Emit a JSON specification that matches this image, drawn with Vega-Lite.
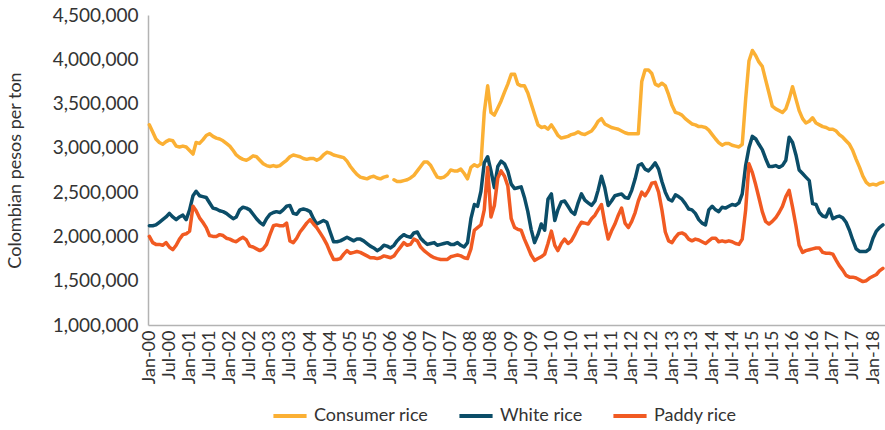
{
"$schema":"https://vega.github.io/schema/vega-lite/v6.json",
"width":737,"height":310,
"autosize":{"type":"none"},
"padding":{"left":148,"top":15,"right":0,"bottom":105},
"background":"white",
"config":{"view":{"stroke":null},"font":"Lato"},
"data":{"values":[
{"date":"2000-01","Consumer rice":3260000,"White rice":2120000,"Paddy rice":2000000},
{"date":"2000-02","Consumer rice":3180000,"White rice":2120000,"Paddy rice":1930000},
{"date":"2000-03","Consumer rice":3100000,"White rice":2130000,"Paddy rice":1910000},
{"date":"2000-04","Consumer rice":3060000,"White rice":2160000,"Paddy rice":1910000},
{"date":"2000-05","Consumer rice":3040000,"White rice":2190000,"Paddy rice":1900000},
{"date":"2000-06","Consumer rice":3070000,"White rice":2220000,"Paddy rice":1930000},
{"date":"2000-07","Consumer rice":3090000,"White rice":2260000,"Paddy rice":1880000},
{"date":"2000-08","Consumer rice":3080000,"White rice":2220000,"Paddy rice":1850000},
{"date":"2000-09","Consumer rice":3020000,"White rice":2190000,"Paddy rice":1900000},
{"date":"2000-10","Consumer rice":3010000,"White rice":2220000,"Paddy rice":1970000},
{"date":"2000-11","Consumer rice":3020000,"White rice":2240000,"Paddy rice":2020000},
{"date":"2000-12","Consumer rice":3010000,"White rice":2190000,"Paddy rice":2030000},
{"date":"2001-01","Consumer rice":2970000,"White rice":2300000,"Paddy rice":2060000},
{"date":"2001-02","Consumer rice":2930000,"White rice":2460000,"Paddy rice":2340000},
{"date":"2001-03","Consumer rice":3060000,"White rice":2510000,"Paddy rice":2290000},
{"date":"2001-04","Consumer rice":3050000,"White rice":2460000,"Paddy rice":2210000},
{"date":"2001-05","Consumer rice":3090000,"White rice":2450000,"Paddy rice":2160000},
{"date":"2001-06","Consumer rice":3140000,"White rice":2440000,"Paddy rice":2100000},
{"date":"2001-07","Consumer rice":3160000,"White rice":2380000,"Paddy rice":2010000},
{"date":"2001-08","Consumer rice":3130000,"White rice":2320000,"Paddy rice":2000000},
{"date":"2001-09","Consumer rice":3110000,"White rice":2310000,"Paddy rice":2000000},
{"date":"2001-10","Consumer rice":3100000,"White rice":2290000,"Paddy rice":2020000},
{"date":"2001-11","Consumer rice":3080000,"White rice":2280000,"Paddy rice":2010000},
{"date":"2001-12","Consumer rice":3050000,"White rice":2260000,"Paddy rice":1980000},
{"date":"2002-01","Consumer rice":3020000,"White rice":2230000,"Paddy rice":1970000},
{"date":"2002-02","Consumer rice":2970000,"White rice":2200000,"Paddy rice":1950000},
{"date":"2002-03","Consumer rice":2920000,"White rice":2220000,"Paddy rice":1940000},
{"date":"2002-04","Consumer rice":2890000,"White rice":2300000,"Paddy rice":1970000},
{"date":"2002-05","Consumer rice":2870000,"White rice":2330000,"Paddy rice":1990000},
{"date":"2002-06","Consumer rice":2860000,"White rice":2320000,"Paddy rice":1960000},
{"date":"2002-07","Consumer rice":2880000,"White rice":2300000,"Paddy rice":1890000},
{"date":"2002-08","Consumer rice":2910000,"White rice":2250000,"Paddy rice":1880000},
{"date":"2002-09","Consumer rice":2900000,"White rice":2200000,"Paddy rice":1860000},
{"date":"2002-10","Consumer rice":2860000,"White rice":2160000,"Paddy rice":1840000},
{"date":"2002-11","Consumer rice":2820000,"White rice":2130000,"Paddy rice":1860000},
{"date":"2002-12","Consumer rice":2800000,"White rice":2200000,"Paddy rice":1910000},
{"date":"2003-01","Consumer rice":2790000,"White rice":2250000,"Paddy rice":2020000},
{"date":"2003-02","Consumer rice":2800000,"White rice":2270000,"Paddy rice":2120000},
{"date":"2003-03","Consumer rice":2790000,"White rice":2280000,"Paddy rice":2130000},
{"date":"2003-04","Consumer rice":2800000,"White rice":2270000,"Paddy rice":2120000},
{"date":"2003-05","Consumer rice":2830000,"White rice":2300000,"Paddy rice":2120000},
{"date":"2003-06","Consumer rice":2860000,"White rice":2340000,"Paddy rice":2150000},
{"date":"2003-07","Consumer rice":2900000,"White rice":2350000,"Paddy rice":1950000},
{"date":"2003-08","Consumer rice":2920000,"White rice":2260000,"Paddy rice":1930000},
{"date":"2003-09","Consumer rice":2910000,"White rice":2250000,"Paddy rice":1980000},
{"date":"2003-10","Consumer rice":2900000,"White rice":2300000,"Paddy rice":2050000},
{"date":"2003-11","Consumer rice":2880000,"White rice":2310000,"Paddy rice":2100000},
{"date":"2003-12","Consumer rice":2870000,"White rice":2300000,"Paddy rice":2150000},
{"date":"2004-01","Consumer rice":2880000,"White rice":2280000,"Paddy rice":2190000},
{"date":"2004-02","Consumer rice":2880000,"White rice":2200000,"Paddy rice":2140000},
{"date":"2004-03","Consumer rice":2860000,"White rice":2140000,"Paddy rice":2100000},
{"date":"2004-04","Consumer rice":2880000,"White rice":2160000,"Paddy rice":2040000},
{"date":"2004-05","Consumer rice":2920000,"White rice":2180000,"Paddy rice":1980000},
{"date":"2004-06","Consumer rice":2950000,"White rice":2160000,"Paddy rice":1910000},
{"date":"2004-07","Consumer rice":2940000,"White rice":2050000,"Paddy rice":1820000},
{"date":"2004-08","Consumer rice":2920000,"White rice":1940000,"Paddy rice":1740000},
{"date":"2004-09","Consumer rice":2910000,"White rice":1940000,"Paddy rice":1740000},
{"date":"2004-10","Consumer rice":2900000,"White rice":1950000,"Paddy rice":1750000},
{"date":"2004-11","Consumer rice":2890000,"White rice":1970000,"Paddy rice":1800000},
{"date":"2004-12","Consumer rice":2850000,"White rice":1990000,"Paddy rice":1840000},
{"date":"2005-01","Consumer rice":2790000,"White rice":1970000,"Paddy rice":1810000},
{"date":"2005-02","Consumer rice":2740000,"White rice":1950000,"Paddy rice":1820000},
{"date":"2005-03","Consumer rice":2700000,"White rice":1970000,"Paddy rice":1830000},
{"date":"2005-04","Consumer rice":2670000,"White rice":1970000,"Paddy rice":1820000},
{"date":"2005-05","Consumer rice":2660000,"White rice":1950000,"Paddy rice":1800000},
{"date":"2005-06","Consumer rice":2650000,"White rice":1920000,"Paddy rice":1780000},
{"date":"2005-07","Consumer rice":2670000,"White rice":1890000,"Paddy rice":1760000},
{"date":"2005-08","Consumer rice":2680000,"White rice":1870000,"Paddy rice":1760000},
{"date":"2005-09","Consumer rice":2660000,"White rice":1840000,"Paddy rice":1750000},
{"date":"2005-10","Consumer rice":2650000,"White rice":1860000,"Paddy rice":1760000},
{"date":"2005-11","Consumer rice":2670000,"White rice":1900000,"Paddy rice":1780000},
{"date":"2005-12","Consumer rice":2680000,"White rice":1890000,"Paddy rice":1770000},
{"date":"2006-01","Consumer rice":null,"White rice":1870000,"Paddy rice":1760000},
{"date":"2006-02","Consumer rice":2640000,"White rice":1900000,"Paddy rice":1780000},
{"date":"2006-03","Consumer rice":2620000,"White rice":1950000,"Paddy rice":1830000},
{"date":"2006-04","Consumer rice":2620000,"White rice":1990000,"Paddy rice":1880000},
{"date":"2006-05","Consumer rice":2630000,"White rice":2020000,"Paddy rice":1930000},
{"date":"2006-06","Consumer rice":2640000,"White rice":2000000,"Paddy rice":1900000},
{"date":"2006-07","Consumer rice":2660000,"White rice":1990000,"Paddy rice":1910000},
{"date":"2006-08","Consumer rice":2690000,"White rice":2040000,"Paddy rice":1970000},
{"date":"2006-09","Consumer rice":2740000,"White rice":2050000,"Paddy rice":1950000},
{"date":"2006-10","Consumer rice":2790000,"White rice":1980000,"Paddy rice":1880000},
{"date":"2006-11","Consumer rice":2840000,"White rice":1940000,"Paddy rice":1840000},
{"date":"2006-12","Consumer rice":2840000,"White rice":1910000,"Paddy rice":1810000},
{"date":"2007-01","Consumer rice":2800000,"White rice":1920000,"Paddy rice":1780000},
{"date":"2007-02","Consumer rice":2730000,"White rice":1930000,"Paddy rice":1760000},
{"date":"2007-03","Consumer rice":2670000,"White rice":1900000,"Paddy rice":1750000},
{"date":"2007-04","Consumer rice":2660000,"White rice":1910000,"Paddy rice":1740000},
{"date":"2007-05","Consumer rice":2670000,"White rice":1920000,"Paddy rice":1740000},
{"date":"2007-06","Consumer rice":2700000,"White rice":1930000,"Paddy rice":1740000},
{"date":"2007-07","Consumer rice":2750000,"White rice":1910000,"Paddy rice":1770000},
{"date":"2007-08","Consumer rice":2740000,"White rice":1910000,"Paddy rice":1780000},
{"date":"2007-09","Consumer rice":2740000,"White rice":1930000,"Paddy rice":1790000},
{"date":"2007-10","Consumer rice":2760000,"White rice":1900000,"Paddy rice":1780000},
{"date":"2007-11","Consumer rice":2710000,"White rice":1880000,"Paddy rice":1760000},
{"date":"2007-12","Consumer rice":2650000,"White rice":1930000,"Paddy rice":1750000},
{"date":"2008-01","Consumer rice":2780000,"White rice":2200000,"Paddy rice":1860000},
{"date":"2008-02","Consumer rice":2810000,"White rice":2360000,"Paddy rice":2070000},
{"date":"2008-03","Consumer rice":2790000,"White rice":2340000,"Paddy rice":2100000},
{"date":"2008-04","Consumer rice":2820000,"White rice":2510000,"Paddy rice":2130000},
{"date":"2008-05","Consumer rice":3400000,"White rice":2830000,"Paddy rice":2300000},
{"date":"2008-06","Consumer rice":3700000,"White rice":2900000,"Paddy rice":2780000},
{"date":"2008-07","Consumer rice":3400000,"White rice":2740000,"Paddy rice":2220000},
{"date":"2008-08","Consumer rice":3370000,"White rice":2550000,"Paddy rice":2350000},
{"date":"2008-09","Consumer rice":3450000,"White rice":2790000,"Paddy rice":2660000},
{"date":"2008-10","Consumer rice":3530000,"White rice":2850000,"Paddy rice":2740000},
{"date":"2008-11","Consumer rice":3630000,"White rice":2820000,"Paddy rice":2680000},
{"date":"2008-12","Consumer rice":3720000,"White rice":2740000,"Paddy rice":2570000},
{"date":"2009-01","Consumer rice":3830000,"White rice":2590000,"Paddy rice":2200000},
{"date":"2009-02","Consumer rice":3830000,"White rice":2540000,"Paddy rice":2100000},
{"date":"2009-03","Consumer rice":3720000,"White rice":2550000,"Paddy rice":2080000},
{"date":"2009-04","Consumer rice":3700000,"White rice":2560000,"Paddy rice":2070000},
{"date":"2009-05","Consumer rice":3700000,"White rice":2440000,"Paddy rice":1970000},
{"date":"2009-06","Consumer rice":3620000,"White rice":2280000,"Paddy rice":1880000},
{"date":"2009-07","Consumer rice":3500000,"White rice":2080000,"Paddy rice":1790000},
{"date":"2009-08","Consumer rice":3380000,"White rice":1930000,"Paddy rice":1730000},
{"date":"2009-09","Consumer rice":3260000,"White rice":2020000,"Paddy rice":1750000},
{"date":"2009-10","Consumer rice":3230000,"White rice":2140000,"Paddy rice":1770000},
{"date":"2009-11","Consumer rice":3240000,"White rice":2070000,"Paddy rice":1800000},
{"date":"2009-12","Consumer rice":3210000,"White rice":2420000,"Paddy rice":1920000},
{"date":"2010-01","Consumer rice":3260000,"White rice":2480000,"Paddy rice":2060000},
{"date":"2010-02","Consumer rice":3200000,"White rice":2180000,"Paddy rice":1900000},
{"date":"2010-03","Consumer rice":3140000,"White rice":2300000,"Paddy rice":1840000},
{"date":"2010-04","Consumer rice":3110000,"White rice":2390000,"Paddy rice":1920000},
{"date":"2010-05","Consumer rice":3120000,"White rice":2400000,"Paddy rice":1970000},
{"date":"2010-06","Consumer rice":3130000,"White rice":2340000,"Paddy rice":1920000},
{"date":"2010-07","Consumer rice":3150000,"White rice":2280000,"Paddy rice":1950000},
{"date":"2010-08","Consumer rice":3160000,"White rice":2250000,"Paddy rice":2020000},
{"date":"2010-09","Consumer rice":3180000,"White rice":2380000,"Paddy rice":2100000},
{"date":"2010-10","Consumer rice":3160000,"White rice":2480000,"Paddy rice":2160000},
{"date":"2010-11","Consumer rice":3150000,"White rice":2410000,"Paddy rice":2150000},
{"date":"2010-12","Consumer rice":3170000,"White rice":2380000,"Paddy rice":2140000},
{"date":"2011-01","Consumer rice":3190000,"White rice":2350000,"Paddy rice":2200000},
{"date":"2011-02","Consumer rice":3240000,"White rice":2400000,"Paddy rice":2240000},
{"date":"2011-03","Consumer rice":3300000,"White rice":2520000,"Paddy rice":2300000},
{"date":"2011-04","Consumer rice":3330000,"White rice":2680000,"Paddy rice":2360000},
{"date":"2011-05","Consumer rice":3270000,"White rice":2550000,"Paddy rice":2150000},
{"date":"2011-06","Consumer rice":3250000,"White rice":2350000,"Paddy rice":1970000},
{"date":"2011-07","Consumer rice":3230000,"White rice":2400000,"Paddy rice":2060000},
{"date":"2011-08","Consumer rice":3220000,"White rice":2460000,"Paddy rice":2140000},
{"date":"2011-09","Consumer rice":3210000,"White rice":2470000,"Paddy rice":2240000},
{"date":"2011-10","Consumer rice":3190000,"White rice":2480000,"Paddy rice":2320000},
{"date":"2011-11","Consumer rice":3170000,"White rice":2440000,"Paddy rice":2150000},
{"date":"2011-12","Consumer rice":3160000,"White rice":2430000,"Paddy rice":2100000},
{"date":"2012-01","Consumer rice":3160000,"White rice":2520000,"Paddy rice":2170000},
{"date":"2012-02","Consumer rice":3160000,"White rice":2650000,"Paddy rice":2270000},
{"date":"2012-03","Consumer rice":3160000,"White rice":2800000,"Paddy rice":2400000},
{"date":"2012-04","Consumer rice":3750000,"White rice":2820000,"Paddy rice":2500000},
{"date":"2012-05","Consumer rice":3880000,"White rice":2760000,"Paddy rice":2460000},
{"date":"2012-06","Consumer rice":3880000,"White rice":2740000,"Paddy rice":2520000},
{"date":"2012-07","Consumer rice":3840000,"White rice":2780000,"Paddy rice":2600000},
{"date":"2012-08","Consumer rice":3720000,"White rice":2830000,"Paddy rice":2610000},
{"date":"2012-09","Consumer rice":3700000,"White rice":2760000,"Paddy rice":2500000},
{"date":"2012-10","Consumer rice":3730000,"White rice":2620000,"Paddy rice":2300000},
{"date":"2012-11","Consumer rice":3700000,"White rice":2500000,"Paddy rice":2050000},
{"date":"2012-12","Consumer rice":3600000,"White rice":2420000,"Paddy rice":1950000},
{"date":"2013-01","Consumer rice":3480000,"White rice":2400000,"Paddy rice":1930000},
{"date":"2013-02","Consumer rice":3400000,"White rice":2470000,"Paddy rice":1990000},
{"date":"2013-03","Consumer rice":3390000,"White rice":2450000,"Paddy rice":2030000},
{"date":"2013-04","Consumer rice":3370000,"White rice":2420000,"Paddy rice":2040000},
{"date":"2013-05","Consumer rice":3330000,"White rice":2370000,"Paddy rice":2020000},
{"date":"2013-06","Consumer rice":3300000,"White rice":2310000,"Paddy rice":1970000},
{"date":"2013-07","Consumer rice":3270000,"White rice":2300000,"Paddy rice":1950000},
{"date":"2013-08","Consumer rice":3260000,"White rice":2260000,"Paddy rice":1970000},
{"date":"2013-09","Consumer rice":3240000,"White rice":2190000,"Paddy rice":1960000},
{"date":"2013-10","Consumer rice":3240000,"White rice":2150000,"Paddy rice":1940000},
{"date":"2013-11","Consumer rice":3230000,"White rice":2130000,"Paddy rice":1920000},
{"date":"2013-12","Consumer rice":3200000,"White rice":2300000,"Paddy rice":1950000},
{"date":"2014-01","Consumer rice":3150000,"White rice":2340000,"Paddy rice":1980000},
{"date":"2014-02","Consumer rice":3100000,"White rice":2300000,"Paddy rice":1980000},
{"date":"2014-03","Consumer rice":3060000,"White rice":2280000,"Paddy rice":1940000},
{"date":"2014-04","Consumer rice":3030000,"White rice":2330000,"Paddy rice":1950000},
{"date":"2014-05","Consumer rice":3050000,"White rice":2320000,"Paddy rice":1940000},
{"date":"2014-06","Consumer rice":3050000,"White rice":2340000,"Paddy rice":1950000},
{"date":"2014-07","Consumer rice":3030000,"White rice":2360000,"Paddy rice":1940000},
{"date":"2014-08","Consumer rice":3020000,"White rice":2350000,"Paddy rice":1920000},
{"date":"2014-09","Consumer rice":3010000,"White rice":2380000,"Paddy rice":1910000},
{"date":"2014-10","Consumer rice":3040000,"White rice":2480000,"Paddy rice":1970000},
{"date":"2014-11","Consumer rice":3550000,"White rice":2800000,"Paddy rice":2300000},
{"date":"2014-12","Consumer rice":3980000,"White rice":3000000,"Paddy rice":2820000},
{"date":"2015-01","Consumer rice":4100000,"White rice":3130000,"Paddy rice":2720000},
{"date":"2015-02","Consumer rice":4040000,"White rice":3100000,"Paddy rice":2580000},
{"date":"2015-03","Consumer rice":3970000,"White rice":3040000,"Paddy rice":2440000},
{"date":"2015-04","Consumer rice":3920000,"White rice":2980000,"Paddy rice":2280000},
{"date":"2015-05","Consumer rice":3770000,"White rice":2880000,"Paddy rice":2170000},
{"date":"2015-06","Consumer rice":3620000,"White rice":2790000,"Paddy rice":2140000},
{"date":"2015-07","Consumer rice":3470000,"White rice":2790000,"Paddy rice":2170000},
{"date":"2015-08","Consumer rice":3440000,"White rice":2800000,"Paddy rice":2210000},
{"date":"2015-09","Consumer rice":3420000,"White rice":2780000,"Paddy rice":2270000},
{"date":"2015-10","Consumer rice":3400000,"White rice":2800000,"Paddy rice":2340000},
{"date":"2015-11","Consumer rice":3440000,"White rice":2860000,"Paddy rice":2450000},
{"date":"2015-12","Consumer rice":3550000,"White rice":3120000,"Paddy rice":2520000},
{"date":"2016-01","Consumer rice":3690000,"White rice":3060000,"Paddy rice":2330000},
{"date":"2016-02","Consumer rice":3550000,"White rice":2920000,"Paddy rice":2120000},
{"date":"2016-03","Consumer rice":3420000,"White rice":2750000,"Paddy rice":1900000},
{"date":"2016-04","Consumer rice":3330000,"White rice":2710000,"Paddy rice":1820000},
{"date":"2016-05","Consumer rice":3280000,"White rice":2670000,"Paddy rice":1840000},
{"date":"2016-06","Consumer rice":3300000,"White rice":2630000,"Paddy rice":1850000},
{"date":"2016-07","Consumer rice":3340000,"White rice":2370000,"Paddy rice":1860000},
{"date":"2016-08","Consumer rice":3280000,"White rice":2360000,"Paddy rice":1870000},
{"date":"2016-09","Consumer rice":3260000,"White rice":2270000,"Paddy rice":1870000},
{"date":"2016-10","Consumer rice":3240000,"White rice":2230000,"Paddy rice":1820000},
{"date":"2016-11","Consumer rice":3230000,"White rice":2220000,"Paddy rice":1810000},
{"date":"2016-12","Consumer rice":3210000,"White rice":2310000,"Paddy rice":1810000},
{"date":"2017-01","Consumer rice":3210000,"White rice":2200000,"Paddy rice":1800000},
{"date":"2017-02","Consumer rice":3190000,"White rice":2220000,"Paddy rice":1730000},
{"date":"2017-03","Consumer rice":3150000,"White rice":2230000,"Paddy rice":1670000},
{"date":"2017-04","Consumer rice":3120000,"White rice":2210000,"Paddy rice":1620000},
{"date":"2017-05","Consumer rice":3080000,"White rice":2160000,"Paddy rice":1560000},
{"date":"2017-06","Consumer rice":3040000,"White rice":2070000,"Paddy rice":1540000},
{"date":"2017-07","Consumer rice":2970000,"White rice":1960000,"Paddy rice":1540000},
{"date":"2017-08","Consumer rice":2870000,"White rice":1860000,"Paddy rice":1530000},
{"date":"2017-09","Consumer rice":2780000,"White rice":1830000,"Paddy rice":1510000},
{"date":"2017-10","Consumer rice":2680000,"White rice":1830000,"Paddy rice":1490000},
{"date":"2017-11","Consumer rice":2610000,"White rice":1830000,"Paddy rice":1500000},
{"date":"2017-12","Consumer rice":2580000,"White rice":1860000,"Paddy rice":1530000},
{"date":"2018-01","Consumer rice":2590000,"White rice":1980000,"Paddy rice":1550000},
{"date":"2018-02","Consumer rice":2580000,"White rice":2060000,"Paddy rice":1570000},
{"date":"2018-03","Consumer rice":2600000,"White rice":2100000,"Paddy rice":1610000},
{"date":"2018-04","Consumer rice":2610000,"White rice":2130000,"Paddy rice":1640000}
]},
"transform":[{"fold":["Consumer rice","White rice","Paddy rice"],"as":["series","price"]}],
"mark":{"type":"line","strokeWidth":3.5,"strokeJoin":"round","strokeCap":"round","invalid":"break-paths-show-domains"},
"encoding":{
"x":{"field":"date","type":"temporal",
 "scale":{"type":"utc","domain":[{"year":1999,"month":12,"date":20,"utc":true},{"year":2018,"month":4,"date":20,"utc":true}]},
 "axis":{"title":null,"labelExpr":"utcFormat(datum.value, '%b-%y')","tickCount":{"interval":"month","step":6},"labelAngle":-90,"labelFontSize":18,"labelColor":"#333333","labelPadding":5,"ticks":false,"grid":false,"domainColor":"#b3b3b3","domainWidth":1.5,"labelFlush":false,"labelOverlap":false,"labelBound":false}},
"y":{"field":"price","type":"quantitative",
 "scale":{"domain":[1000000,4500000],"nice":false,"zero":false},
 "axis":{"title":"Colombian pesos per ton","values":[1000000,1500000,2000000,2500000,3000000,3500000,4000000,4500000],"format":",d","grid":false,"ticks":false,"labelPadding":10,"labelFontSize":19,"labelColor":"#333333","titleFontSize":18,"titleFontWeight":"normal","titleColor":"#333333","titlePadding":28,"domainColor":"#b3b3b3","domainWidth":1.5}},
"color":{"field":"series","type":"nominal",
 "scale":{"domain":["Consumer rice","White rice","Paddy rice"],"range":["#FBB034","#0B4D68","#F15A22"]},
 "legend":{"title":null,"orient":"none","legendX":123,"legendY":382,"direction":"horizontal","symbolType":"stroke","symbolStrokeWidth":4,"symbolSize":1100,"labelFontSize":18,"labelColor":"#333333","columnPadding":22,"labelOffset":5}}
}
}
